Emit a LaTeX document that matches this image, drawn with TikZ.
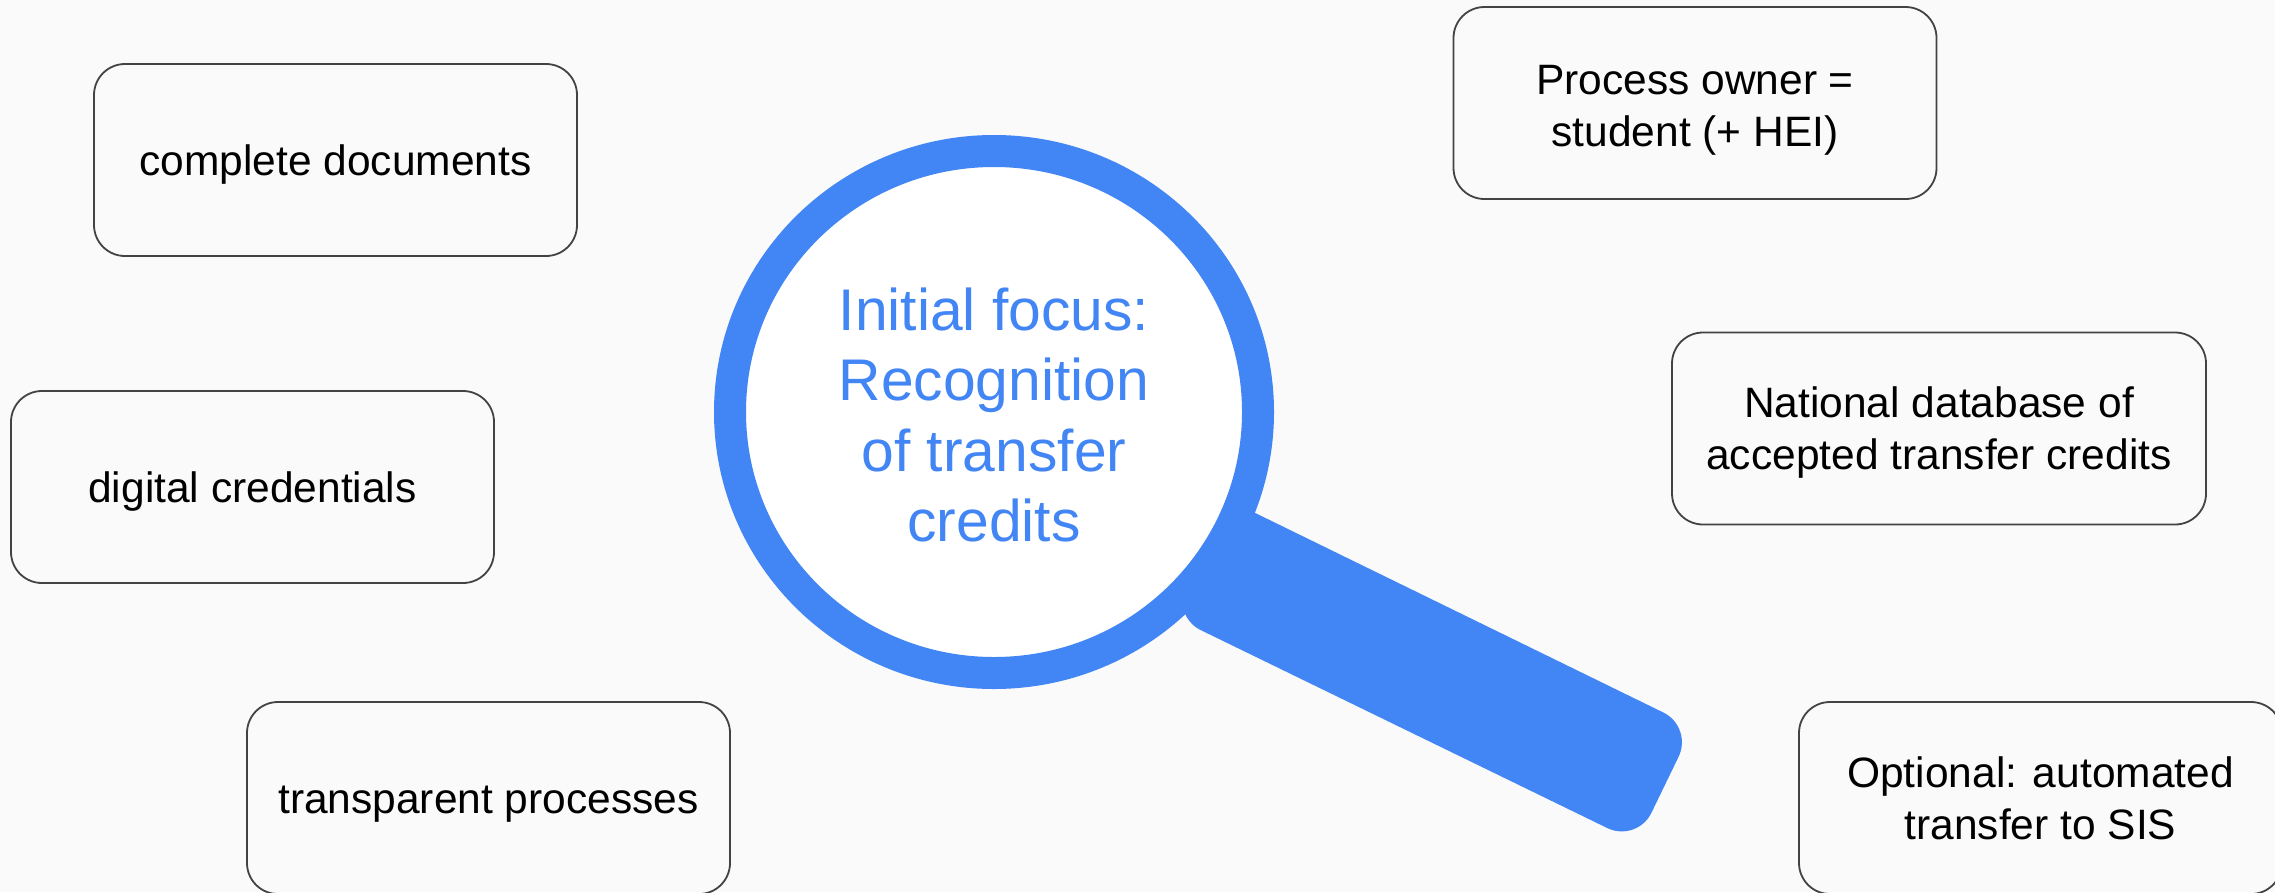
\documentclass[tikz,border=0pt]{standalone}
\usepackage{fontspec}
\usetikzlibrary{shapes.geometric}
\setmainfont{Liberation Sans}
\definecolor{bgc}{HTML}{FAFAFA}
\definecolor{lensblue}{HTML}{4285F4}
\definecolor{edgec}{HTML}{434343}
\newcommand{\lastline}[1]{\raisebox{0pt}[31pt][0pt]{#1}}
\tikzset{
  factbox/.style={draw=edgec,line width=1.8pt,rounded corners=31pt,inner sep=0pt,align=center,
    minimum width=483pt,minimum height=192pt,font=\fontsize{42.5}{52}\selectfont,text=black},
  lens/.style={ellipse,draw=lensblue,fill=white,line width=32pt,inner sep=0pt,minimum width=528pt,minimum height=522pt,
    align=center,text=lensblue,font=\fontsize{58.8}{70.5}\selectfont},
}
\begin{document}
\begin{tikzpicture}[x=1pt,y=-1pt]
\useasboundingbox (0,0) rectangle (2275,892);
\clip (0,0) rectangle (2275,892);
\fill[bgc] (0,0) rectangle (2275,892);
\fill[lensblue] (1200,486) [rounded corners=33pt] -- (1693,727) -- (1637,842.5) [rounded corners=22pt] -- (1180,620) [sharp corners] -- (1185,560) -- cycle;
\node[lens] (focus) at (994,412) {\raisebox{0pt}[48pt][0pt]{Initial focus:}\\Recognition\\of transfer\\\lastline{credits}};
\node[factbox] (docs) at (335.5,160) {\lastline{complete documents}};
\node[factbox] (cred) at (252.5,487) {\lastline{digital credentials}};
\node[factbox] (trans) at (488.5,798) {\lastline{transparent processes}};
\node[factbox] (owner) at (1695,103) {\raisebox{0pt}[35pt][0pt]{Process owner =}\\\lastline{student (+ HEI)}};
\node[factbox,minimum width=534pt] (natdb) at (1939,428.5) {National database of\\\lastline{accepted transfer credits}};
\node[factbox] (opt) at (2040.5,798) {Optional: automated\\\lastline{transfer to SIS}};
\end{tikzpicture}
\end{document}
